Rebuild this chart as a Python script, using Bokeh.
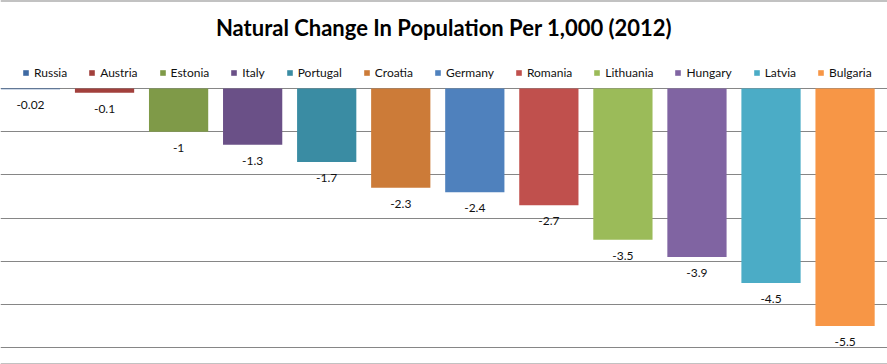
from bokeh.plotting import figure
from bokeh.models import (ColumnDataSource, Range1d, FixedTicker, Legend,
                          LegendItem, Label, Span)
from bokeh.core.properties import value
from bokeh.embed import file_html
from bokeh.resources import INLINE

# ---- data ----
countries = ["Russia", "Austria", "Estonia", "Italy", "Portugal", "Croatia",
             "Germany", "Romania", "Lithuania", "Hungary", "Latvia", "Bulgaria"]
changes = [-0.02, -0.1, -1, -1.3, -1.7, -2.3, -2.4, -2.7, -3.5, -3.9, -4.5, -5.5]
colors = ["#3F6AA3", "#A2403C", "#7F9A48", "#6A5087", "#3A8CA3", "#CC7B38",
          "#4F81BD", "#C0504D", "#9BBB59", "#8064A2", "#4BACC6", "#F79646"]
grid_ticks = [0, -1, -2, -3, -4, -5, -6]
title_text = "Natural Change In Population Per 1,000 (2012)"

labels = [f"{v:g}" for v in changes]
src = ColumnDataSource(dict(x=list(range(len(countries))), top=changes,
                            country=countries, color=colors, label=labels))

W, H = 887, 364
Y_TOP, Y_BOTTOM = 2.037, -6.389
X_LEFT, X_RIGHT = -0.405, 11.573

p = figure(width=W, height=H, output_backend="svg", toolbar_location=None,
           x_range=Range1d(X_LEFT, X_RIGHT), y_range=Range1d(Y_BOTTOM, Y_TOP),
           min_border=0, tools="")
p.xaxis.visible = False
p.yaxis.visible = False
p.xgrid.visible = False
p.ygrid.ticker = FixedTicker(ticks=grid_ticks)
p.ygrid.grid_line_color = "#868686"
p.ygrid.grid_line_width = 1
p.outline_line_color = None
p.background_fill_color = "white"
p.border_fill_color = "white"

r = p.vbar(x="x", top="top", bottom=0, width=0.8, color="color", source=src,
           line_color=None)

p.text(x="x", y="top", text="label", source=src, y_offset=16,
       text_align="center", text_baseline="middle",
       text_font=value("Lato"), text_font_size="12px", text_color="#111111")

for loc in (Y_TOP, Y_BOTTOM):
    p.add_layout(Span(location=loc, dimension="width", line_color="#868686",
                      line_width=2))

legend = Legend(items=[LegendItem(label=c, renderers=[r], index=i)
                       for i, c in enumerate(countries)],
                orientation="horizontal", location=(22, 284),
                glyph_width=7, glyph_height=7, label_standoff=5, spacing=21,
                padding=0, margin=0, label_height=14,
                label_text_font="Lato", label_text_font_size="12px",
                label_text_color="#111111",
                border_line_color=None, background_fill_alpha=0)
p.add_layout(legend)

p.add_layout(Label(x=W / 2, y=H - 27, x_units="screen", y_units="screen",
                   text=title_text, text_align="center", text_baseline="middle",
                   text_font="Lato", text_font_style="bold",
                   text_font_size="22px", text_color="#000000"))

open("out.html", "w").write(file_html(p, INLINE))
